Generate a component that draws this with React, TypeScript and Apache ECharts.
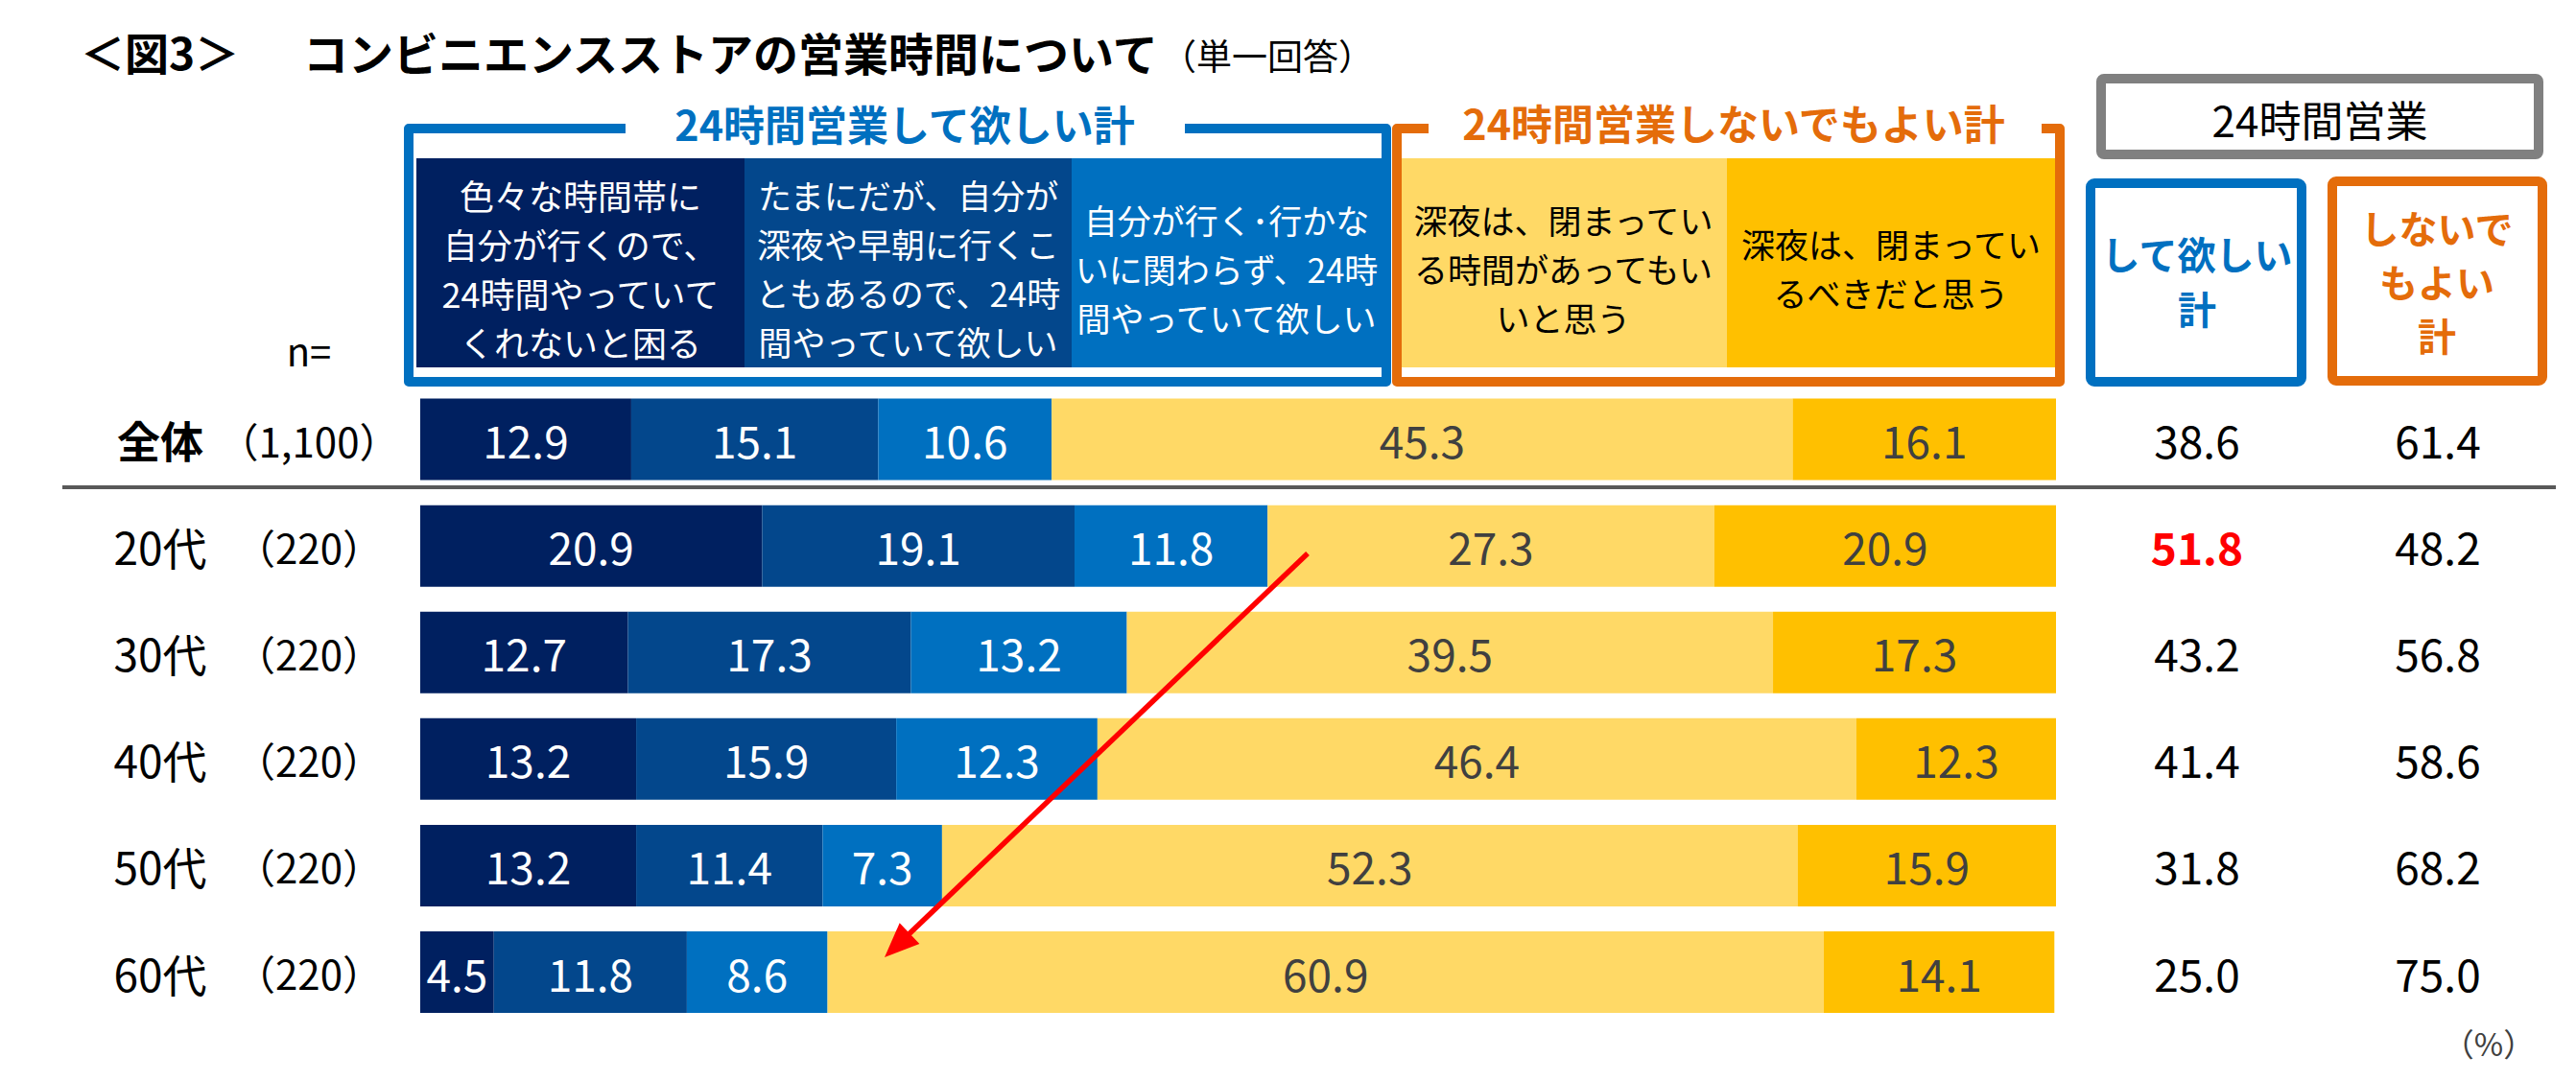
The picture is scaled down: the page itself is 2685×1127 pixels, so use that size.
import React, { useEffect, useRef } from "react";
import * as echarts from "echarts";

// ---- data ----
const categories = ["全体", "20代", "30代", "40代", "50代", "60代"];
const sampleSizes = ["1,100", "220", "220", "220", "220", "220"];
const seriesNames = [
  "色々な時間帯に自分が行くので、24時間やっていてくれないと困る",
  "たまにだが、自分が深夜や早朝に行くこともあるので、24時間やっていて欲しい",
  "自分が行く・行かないに関わらず、24時間やっていて欲しい",
  "深夜は、閉まっている時間があってもいいと思う",
  "深夜は、閉まっているべきだと思う",
];
const headerLines = [
  ["色々な時間帯に", "自分が行くので、", "24時間やっていて", "くれないと困る"],
  ["たまにだが、自分が", "深夜や早朝に行くこ", "ともあるので、24時", "間やっていて欲しい"],
  ["自分が行く･行かな", "いに関わらず、24時", "間やっていて欲しい"],
  ["深夜は、閉まってい", "る時間があってもい", "いと思う"],
  ["深夜は、閉まってい", "るべきだと思う"],
];
const needAlways = [12.9, 20.9, 12.7, 13.2, 13.2, 4.5];
const needSometimes = [15.1, 19.1, 17.3, 15.9, 11.4, 11.8];
const needRegardless = [10.6, 11.8, 13.2, 12.3, 7.3, 8.6];
const okClosedSometimes = [45.3, 27.3, 39.5, 46.4, 52.3, 60.9];
const shouldClose = [16.1, 20.9, 17.3, 12.3, 15.9, 14.1];
const wantTotal = [38.6, 51.8, 43.2, 41.4, 31.8, 25.0];
const notNeededTotal = [61.4, 48.2, 56.8, 58.6, 68.2, 75.0];

const seriesValues = [needAlways, needSometimes, needRegardless, okClosedSometimes, shouldClose];
const colors = ["#002060", "#03478C", "#0070C0", "#FFD966", "#FFC000"];
const labelColors = ["#FFFFFF", "#FFFFFF", "#FFFFFF", "#404040", "#404040"];
const headerTextColors = ["#FFFFFF", "#FFFFFF", "#FFFFFF", "#000000", "#000000"];
const headerFontSizes = [36, 35, 35, 35, 35];

const FONT = "'Noto Sans CJK JP', 'Noto Sans', sans-serif";
const BLUE = "#0070C0";
const ORANGE = "#E46C0A";

function txt(x: number, y: number, text: string, opts: any = {}) {
  const align = opts.align || "center";
  const vAlign = opts.verticalAlign || "middle";
  return {
    type: "text",
    x,
    y,
    z: opts.z || 10,
    style: {
      text,
      fill: opts.fill || "#000",
      fontSize: opts.fontSize || 36,
      fontWeight: opts.fontWeight || "normal",
      fontFamily: FONT,
      lineHeight: opts.lineHeight,
      align,
      textAlign: align,
      verticalAlign: vAlign,
      textVerticalAlign: vAlign,
    },
  };
}

export default function App() {
  const ref = useRef<HTMLDivElement>(null);

  useEffect(() => {
    if (!ref.current) return;
    const chart = echarts.init(ref.current, undefined, { renderer: "svg" });

    // header cells
    const cellBounds = [
      [434, 776],
      [776, 1117],
      [1117, 1440],
      [1459, 1800],
      [1800, 2142],
    ];
    const graphics: any[] = [];
    cellBounds.forEach(([x0, x1], i) => {
      graphics.push({
        type: "rect",
        shape: { x: x0, y: 165, width: x1 - x0, height: 218 },
        style: { fill: colors[i] },
      });
      graphics.push(
        txt((x0 + x1) / 2, 279, headerLines[i].join("\n"), {
          fontSize: headerFontSizes[i],
          lineHeight: 51,
          fill: headerTextColors[i],
        })
      );
    });

    // blue bracket
    graphics.push({
      type: "polyline",
      shape: {
        points: [
          [652, 134],
          [426, 134],
          [426, 398],
          [1445, 398],
          [1445, 134],
          [1235, 134],
        ],
      },
      style: { stroke: BLUE, lineWidth: 10, fill: null, lineJoin: "round" },
    });
    graphics.push(txt(943, 128, "24時間営業して欲しい計", { fontSize: 43, fontWeight: "bold", fill: BLUE }));

    // orange bracket
    graphics.push({
      type: "polyline",
      shape: {
        points: [
          [1489, 134],
          [1456, 134],
          [1456, 398],
          [2147, 398],
          [2147, 134],
          [2128, 134],
        ],
      },
      style: { stroke: ORANGE, lineWidth: 10, fill: null, lineJoin: "round" },
    });
    graphics.push(txt(1807, 127, "24時間営業しないでもよい計", { fontSize: 43, fontWeight: "bold", fill: ORANGE }));

    // right header boxes
    graphics.push({
      type: "rect",
      shape: { x: 2190, y: 82, width: 456, height: 79, r: 3 },
      style: { fill: "#fff", stroke: "#808080", lineWidth: 10 },
    });
    graphics.push(txt(2418, 124, "24時間営業", { fontSize: 44 }));
    graphics.push({
      type: "rect",
      shape: { x: 2179, y: 191, width: 220, height: 207, r: 4 },
      style: { fill: "#fff", stroke: BLUE, lineWidth: 10 },
    });
    graphics.push(txt(2290, 292, "して欲しい\n計", { fontSize: 40, fontWeight: "bold", fill: BLUE, lineHeight: 57 }));
    graphics.push({
      type: "rect",
      shape: { x: 2431, y: 189, width: 219, height: 208, r: 4 },
      style: { fill: "#fff", stroke: ORANGE, lineWidth: 10 },
    });
    graphics.push(txt(2540, 293, "しないで\nもよい\n計", { fontSize: 40, fontWeight: "bold", fill: ORANGE, lineHeight: 56 }));

    // titles
    graphics.push(txt(84, 53, "＜図3＞", { fontSize: 46, fontWeight: "bold", align: "left" }));
    graphics.push(
      txt(316, 53, "コンビニエンスストアの営業時間について", { fontSize: 47, fontWeight: "bold", align: "left" })
    );
    graphics.push(txt(1210, 57, "（単一回答）", { fontSize: 37, align: "left" }));
    graphics.push(txt(322, 365, "n=", { fontSize: 40 }));
    graphics.push(txt(2594, 1087, "（%）", { fontSize: 33, fill: "#404040" }));

    // separator
    graphics.push({
      type: "line",
      shape: { x1: 65, y1: 508, x2: 2664, y2: 508 },
      style: { stroke: "#595959", lineWidth: 4 },
    });

    // red arrow
    const tip = [922, 998];
    const start = [1363, 577];
    const dx = tip[0] - start[0];
    const dy = tip[1] - start[1];
    const len = Math.sqrt(dx * dx + dy * dy);
    const ux = dx / len;
    const uy = dy / len;
    const headLen = 36;
    const headHalf = 15;
    const bx = tip[0] - ux * headLen;
    const by = tip[1] - uy * headLen;
    graphics.push({
      type: "line",
      z: 100,
      shape: { x1: start[0], y1: start[1], x2: bx + ux * 4, y2: by + uy * 4 },
      style: { stroke: "#FF0000", lineWidth: 5.5 },
    });
    graphics.push({
      type: "polygon",
      z: 100,
      shape: {
        points: [
          [tip[0], tip[1]],
          [bx - uy * headHalf, by + ux * headHalf],
          [bx + uy * headHalf, by - ux * headHalf],
        ],
      },
      style: { fill: "#FF0000" },
    });

    const option: any = {
      animation: false,
      textStyle: { fontFamily: FONT },
      grid: { left: 438, right: 542, top: 402.5, height: 666.6, containLabel: false },
      xAxis: { type: "value", min: 0, max: 100, show: false },
      yAxis: [
        {
          type: "category",
          data: categories,
          inverse: true,
          axisLine: { show: false },
          axisTick: { show: false },
          splitLine: { show: false },
          axisLabel: {
            margin: 16,
            formatter: (v: string, i: number) =>
              (i === 0 ? `{t|${v}}` : `{c|${v}}`) + `{n|（${sampleSizes[i]}）}`,
            rich: {
              t: { width: 110, align: "center", fontSize: 45, fontWeight: "bold", color: "#000", fontFamily: FONT },
              c: { width: 110, align: "center", fontSize: 46, color: "#000", fontFamily: FONT },
              n: { width: 200, align: "center", fontSize: 42, color: "#000", fontFamily: FONT },
            },
          },
        },
        {
          type: "category",
          data: categories,
          inverse: true,
          position: "right",
          axisLine: { show: false },
          axisTick: { show: false },
          splitLine: { show: false },
          axisLabel: {
            margin: 47,
            align: "left",
            formatter: (_v: string, i: number) =>
              `{${i === 1 ? "r" : "a"}|${wantTotal[i].toFixed(1)}}{b|${notNeededTotal[i].toFixed(1)}}`,
            rich: {
              a: { width: 200, align: "center", fontSize: 46, color: "#000", fontFamily: FONT },
              r: { width: 200, align: "center", fontSize: 46, fontWeight: "bold", color: "#FF0000", fontFamily: FONT },
              b: { width: 302, align: "center", fontSize: 46, color: "#000", fontFamily: FONT },
            },
          },
        },
      ],
      series: seriesValues.map((vals, k) => ({
        name: seriesNames[k],
        type: "bar",
        stack: "total",
        yAxisIndex: 0,
        barWidth: 85,
        data: vals,
        itemStyle: { color: colors[k] },
        label: {
          show: true,
          position: "inside",
          color: labelColors[k],
          fontSize: 46,
          fontFamily: FONT,
          formatter: (p: any) => Number(p.value).toFixed(1),
        },
      })),
      graphic: graphics,
    };

    chart.setOption(option);
    return () => chart.dispose();
  }, []);

  return (
    <div
      ref={ref}
      style={{ position: "absolute", left: 0, top: 0, width: 2685, height: 1127, background: "#fff" }}
    />
  );
}
